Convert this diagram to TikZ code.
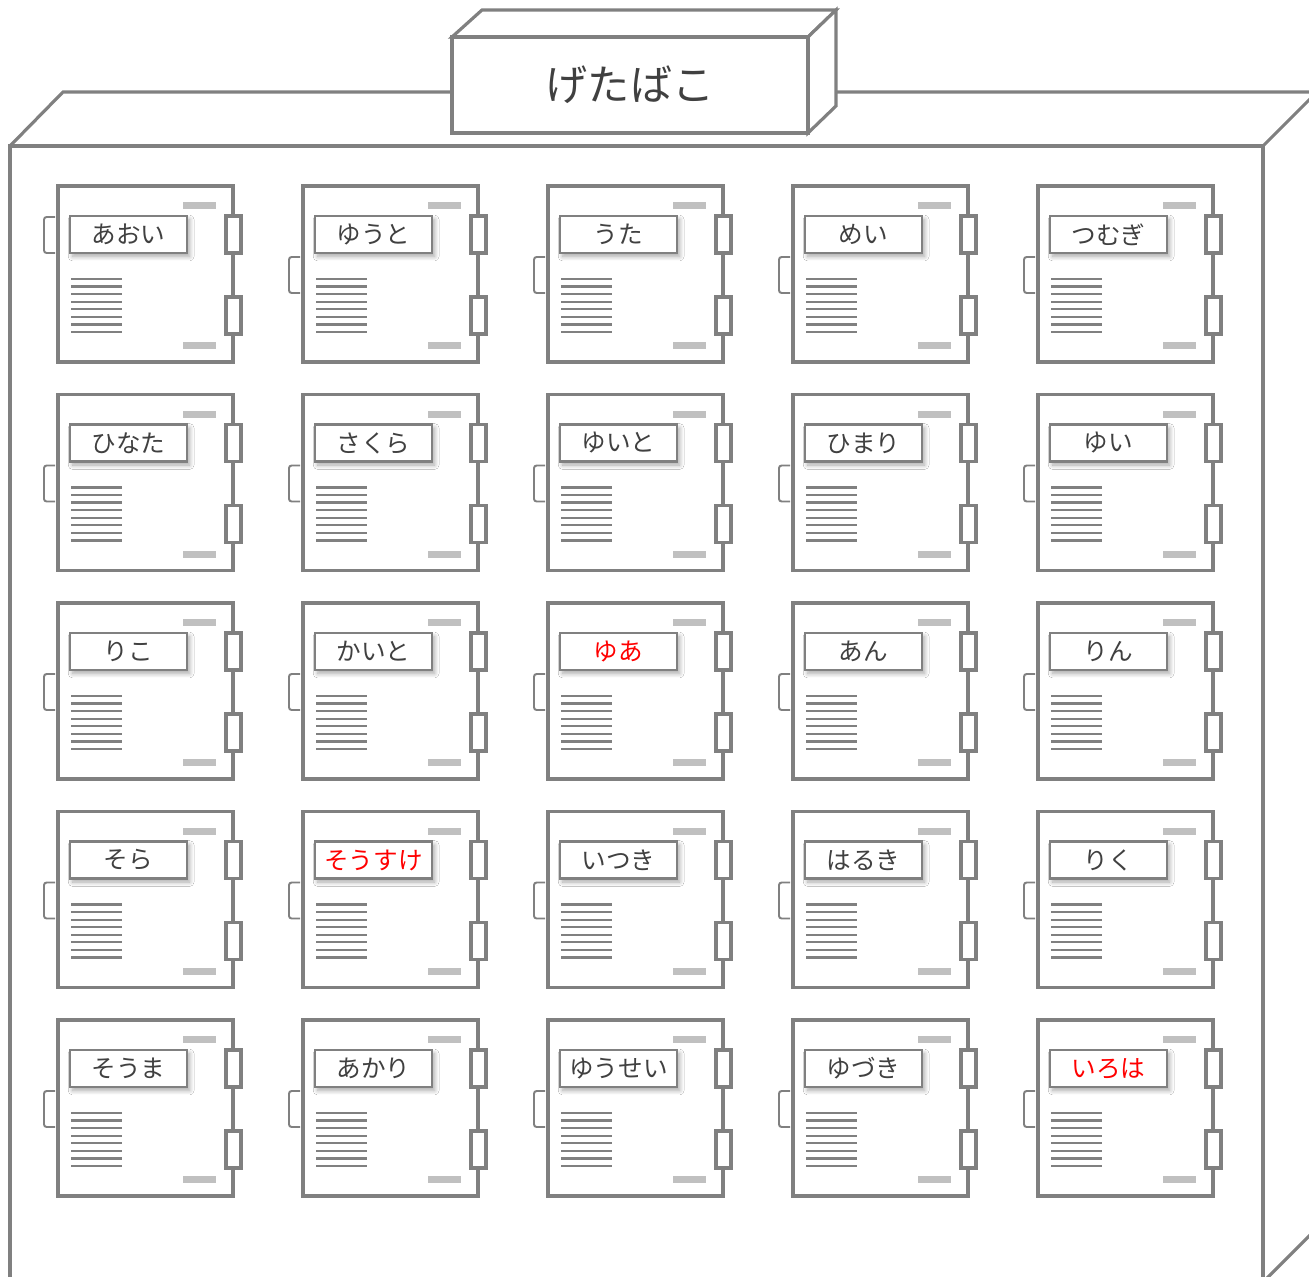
\documentclass[tikz,border=0pt]{standalone}
\usepackage{fontspec}
\newfontfamily\jpfont{Noto Sans CJK JP}
\usetikzlibrary{shadows.blur}

\definecolor{framegray}{RGB}{128,128,128}
\definecolor{bargray}{RGB}{192,192,192}
\definecolor{textgray}{RGB}{64,64,64}
\definecolor{namered}{RGB}{255,0,0}

\begin{document}
\begin{tikzpicture}[
    x=0.02cm, y=-0.02cm,
    frame/.style={draw=framegray, line width=1.8pt, line join=miter},
    bar/.style={fill=bargray},
    memo/.style={draw=framegray, line width=1.3pt},
    tag/.style={draw=framegray, line width=1.5pt, fill=white, inner sep=0pt,
        minimum width=2.34cm, minimum height=0.74cm, font=\jpfont\fontsize{14pt}{16pt}\selectfont,
        blur shadow={shadow xshift=1.5pt, shadow yshift=-2pt, shadow blur radius=2.5pt,
            shadow blur steps=10, shadow opacity=35}},
    font=\jpfont
]
    \useasboundingbox (0,0) rectangle (1309,1277);

    % 棚の本体
    \begin{scope}
        \clip (0,0) rectangle (1309,1277);
        \draw[frame, fill=white] (10,1282) -- (10,146) -- (1263,146) -- (1263,1282);
        \draw[frame] (10,146) -- (63,92) -- (1330,92);
        \draw[frame] (1263,146) -- (1317,92);
        \draw[frame] (1263,1282) -- (1317,1228);
    \end{scope}

    % 看板
    \draw[frame, fill=white] (452,37) -- (482,10) -- (836,10) -- (808,37) -- cycle;
    \draw[frame, fill=white] (808,37) -- (836,10) -- (836,106) -- (808,133) -- cycle;
    \draw[frame, fill=white] (452,37) rectangle (808,133);
    \node[text=textgray, font=\jpfont\fontsize{24pt}{28pt}\selectfont] (title) at (630,85) {げたばこ};

    % 扉 (5x5)
    \foreach \nm/\col/\hy [count=\i from 0] in {
        あおい/textgray/31, ゆうと/textgray/71, うた/textgray/71, めい/textgray/71, つむぎ/textgray/71,
        ひなた/textgray/71, さくら/textgray/71, ゆいと/textgray/71, ひまり/textgray/71, ゆい/textgray/71,
        りこ/textgray/71, かいと/textgray/71, ゆあ/namered/71, あん/textgray/71, りん/textgray/71,
        そら/textgray/71, そうすけ/namered/71, いつき/textgray/71, はるき/textgray/71, りく/textgray/71,
        そうま/textgray/71, あかり/textgray/71, ゆうせい/textgray/71, ゆづき/textgray/71, いろは/namered/71} {
        \pgfmathtruncatemacro\c{mod(\i,5)}
        \pgfmathtruncatemacro\r{\i/5}
        \begin{scope}[shift={({58+245*\c},{186+208.5*\r})}]
            \draw[frame, fill=white] (0,0) rectangle (175,176);
            % 取っ手
            \draw[draw=framegray, line width=1.1pt, rounded corners=1.5pt]
                (-3,\hy) -- (-14,\hy) -- (-14,\hy+36) -- (-3,\hy+36);
            % ちょうつがい
            \draw[frame, fill=white] (168,30) rectangle (183,67);
            \draw[frame, fill=white] (168,111) rectangle (183,148);
            % 通気口
            \fill[bar] (125,16) rectangle (158,23);
            \fill[bar] (125,156) rectangle (158,163);
            % 名札
            \node[tag, text=\col] (tag-\i) at (70.5,48.5) {\nm};
            \foreach \k in {0,...,7}
                \draw[memo] (13,{93+7.57*\k}) -- (64,{93+7.57*\k});
        \end{scope}
    }
\end{tikzpicture}
\end{document}
